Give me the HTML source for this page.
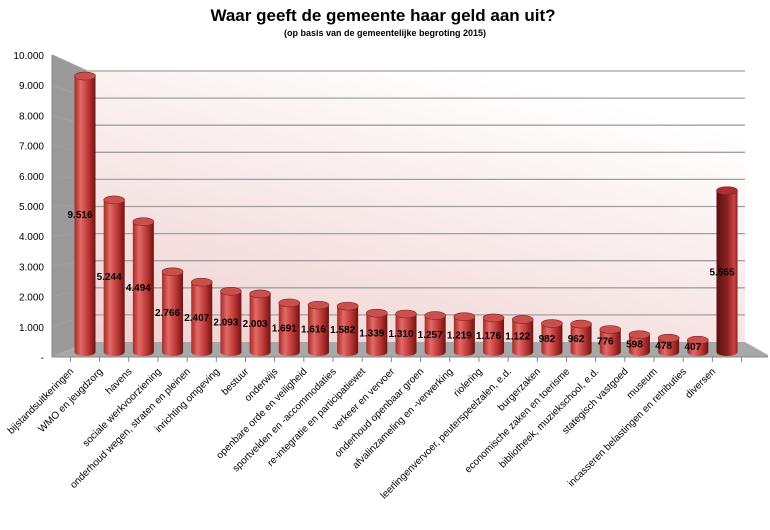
<!DOCTYPE html>
<html><head><meta charset="utf-8"><style>
body{margin:0;background:#fff;font-family:"Liberation Sans",Arial,sans-serif}
svg{display:block}
</style></head><body>
<svg id="chart" width="770" height="530" viewBox="0 0 770 530" xmlns="http://www.w3.org/2000/svg">
<defs>
<linearGradient id="wall" x1="0" y1="1" x2="0.6" y2="0">
<stop offset="0" stop-color="#f0d0d0"/><stop offset="1" stop-color="#ffffff"/></linearGradient>
<linearGradient id="cyl" x1="0" x2="1" y1="0" y2="0">
<stop offset="0" stop-color="#a52a2a"/><stop offset="0.3" stop-color="#e36a66"/><stop offset="0.7" stop-color="#b53230"/><stop offset="1" stop-color="#6e1414"/></linearGradient>
<linearGradient id="cyl2" x1="0" x2="1" y1="0" y2="0">
<stop offset="0" stop-color="#5a1010"/><stop offset="0.5" stop-color="#8a2020"/><stop offset="0.85" stop-color="#c44"/><stop offset="1" stop-color="#8a1c1c"/></linearGradient>
</defs>
<text x="383" y="21" text-anchor="middle" font-size="17" font-weight="bold" fill="#000">Waar geeft de gemeente haar geld aan uit?</text>
<text x="385" y="36" text-anchor="middle" font-size="9" font-weight="bold" fill="#000">(op basis van de gemeentelijke begroting 2015)</text>
<polygon points="87,71 745,71 745,342 87,342" fill="url(#wall)"/>
<polygon points="52,55 87,71 87,342 52,357" fill="#9a9a9a"/>
<polygon points="52,357 87,342 745,342 768,355 768,357" fill="#a8a8a8"/>
<g id="grid"></g><g id="bars"></g><g id="labels"></g>
</svg>
<script>
const categories=["bijstandsuitkeringen","WMO en jeugdzorg","havens","sociale werkvoorziening","onderhoud wegen, straten en pleinen","inrichting omgeving","bestuur","onderwijs","openbare orde en veiligheid","sportvelden en -accommodaties","re-integratie en participatiewet","verkeer en vervoer","onderhoud openbaar groen","afvalinzameling en -verwerking","riolering","leerlingenvervoer, peuterspeelzalen, e.d.","burgerzaken","economische zaken en toerisme","bibliotheek, muziekschool, e.d.","stategisch vastgoed","museum","incasseren belastingen en retributies","diversen"];
const values=[9516,5244,4494,2766,2407,2093,2003,1691,1616,1582,1339,1310,1257,1219,1176,1122,982,962,776,598,478,407,5565];
const valueLabels=["9.516","5.244","4.494","2.766","2.407","2.093","2.003","1.691","1.616","1.582","1.339","1.310","1.257","1.219","1.176","1.122","982","962","776","598","478","407","5.565"];
const ticks=[0,1000,2000,3000,4000,5000,6000,7000,8000,9000,10000];
const tickLabels=["-","1.000","2.000","3.000","4.000","5.000","6.000","7.000","8.000","9.000","10.000"];
const NS="http://www.w3.org/2000/svg";
function el(t,a,p){const e=document.createElementNS(NS,t);for(const k in a)e.setAttribute(k,a[k]);p.appendChild(e);return e;}
const frontY=v=>357-v/10000*302, backY=v=>342-v/10000*271, barY=v=>352-v*0.029;
const xC=i=>85+i*(727-85)/(categories.length-1);
const grid=document.getElementById('grid'),bars=document.getElementById('bars'),labels=document.getElementById('labels');
ticks.forEach((t,i)=>{
 if(t>0){const l=el('polyline',{points:`52,${frontY(t)} 87,${backY(t)} 745,${backY(t)}`,fill:'none',stroke:'#a0a0a0','stroke-width':1.3},grid);
 
 }
 const tx=el('text',{x:44,y:frontY(t)+4,'text-anchor':'end','font-size':10,fill:'#000'},grid);
 tx.textContent=tickLabels[i];
 
 
});
el('line',{x1:52,y1:55,x2:52,y2:357,stroke:'#888'},grid);
el('line',{x1:52,y1:357,x2:768,y2:357,stroke:'#888'},grid);
for(let i=0;i<=categories.length;i++){const x=xC(i)-14.6;el('line',{x1:x,y1:357,x2:x,y2:362,stroke:'#888'},grid);}
values.forEach((v,i)=>{
 const cx=xC(i),w=21,top=barY(v),bot=352,ry=4,last=i===values.length-1;
 const g=el('g',{},bars);
 
 
 el('path',{d:`M${cx-w/2},${top} L${cx-w/2},${bot} A${w/2},${ry} 0 0 0 ${cx+w/2},${bot} L${cx+w/2},${top} Z`,fill:last?'url(#cyl2)':'url(#cyl)'},g);
 el('ellipse',{cx:cx,cy:top,rx:w/2,ry:ry,fill:last?'#a83030':'#c9504c',stroke:'#8a2020','stroke-width':0.6},g);
 const lt=el('text',{x:cx-5,y:(bot+top)/2+4,'text-anchor':'middle','font-size':10,'font-weight':'bold',fill:'#000'},labels);
 lt.textContent=valueLabels[i];
 
 
 const ct=el('text',{x:cx-11,y:372,'text-anchor':'end','font-size':10,fill:'#000',transform:`rotate(-45 ${cx-11} 372)`},labels);
 ct.textContent=categories[i];
 
 
});
</script>
</body></html>
